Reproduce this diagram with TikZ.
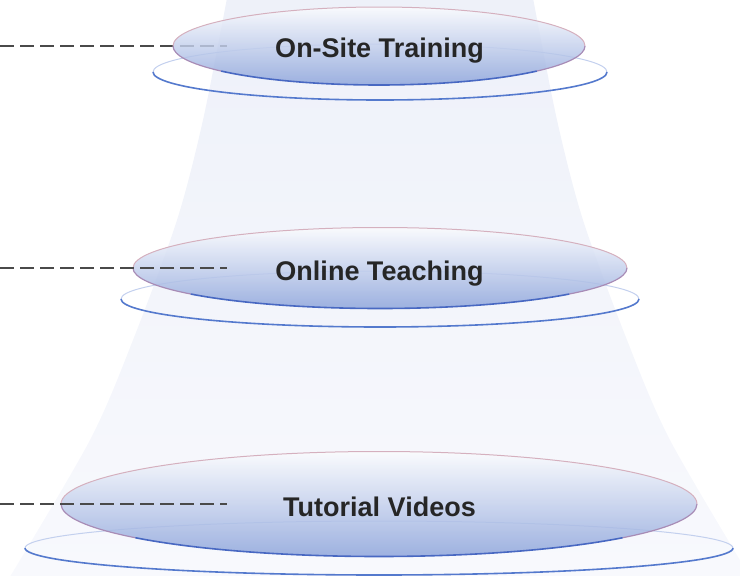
\documentclass[tikz,border=0pt]{standalone}
\usepackage{fontspec}
\setmainfont{Liberation Sans}
\usetikzlibrary{shapes.geometric}
\definecolor{conetop}{HTML}{EEF1F9}
\definecolor{conebot}{HTML}{F8F9FD}
\definecolor{elltop}{HTML}{FBFCFE}
\definecolor{ellbot}{HTML}{8AA2DA}
\definecolor{pinkline}{HTML}{D5B0BE}
\definecolor{mauveline}{HTML}{A88CB6}
\definecolor{blueline}{HTML}{4868C2}
\definecolor{ringblue}{HTML}{5479CD}
\definecolor{ringlight}{HTML}{C3D0EE}
\definecolor{dashc}{HTML}{4A4A4A}
\definecolor{txtc}{HTML}{262626}
\tikzset{
  mainell/.style={ellipse, inner sep=0pt, top color=elltop, bottom color=ellbot, fill opacity=0.82, draw=none},
  upline/.style={draw=pinkline, line width=1pt},
  midline/.style={draw=mauveline, line width=1.2pt},
  lowline/.style={draw=blueline, line width=1.6pt},
  ringlow/.style={draw=ringblue, line width=1.6pt},
  ringup/.style={draw=ringlight, line width=1pt},
  dashline/.style={draw=dashc, line width=1.2pt, dash pattern=on 14pt off 6pt},
  lbl/.style={text=txtc, font=\bfseries\fontsize{27}{32}\selectfont, inner sep=0pt, anchor=base}
}
\begin{document}
\begin{tikzpicture}[x=1pt,y=-1pt]
\useasboundingbox (0,0) rectangle (740,576);
% cone
\shade[top color=conetop, bottom color=conebot]
  plot[smooth] coordinates {(227,-2) (203,120) (177,220) (133,340) (90,440) (8,580)}
  -- plot[smooth] coordinates {(752,580) (670,440) (627,340) (583,220) (557,120) (533,-2)} -- cycle;

% connector end points
\coordinate (s1) at (0,46);   \coordinate (t1) at (227,46);
\coordinate (s2) at (0,268);  \coordinate (t2) at (227,268);
\coordinate (s3) at (0,504);  \coordinate (t3) at (227,504);
% top dashed connector (behind its ellipse)
\draw[dashline] (s1) -- (t1);

% rings
\foreach \cx/\cy/\rx/\ry in {380/72/227/28, 380/299/259/28, 379/548/354/27}{
  \draw[ringup] ({\cx-\rx},\cy) arc[start angle=180, end angle=360, x radius=\rx, y radius=\ry];
  \draw[ringlow] ({\cx+\rx},\cy) arc[start angle=0, end angle=180, x radius=\rx, y radius=\ry];
}

% main ellipses
\node[mainell, minimum width=412pt, minimum height=78pt] (e1) at (379,46) {};
\node[mainell, minimum width=494pt, minimum height=81pt] (e2) at (380,268) {};
\node[mainell, minimum width=636pt, minimum height=105pt] (e3) at (379,504) {};

% outlines
\foreach \cx/\cy/\rx/\ry in {379/46/206/39, 380/268/247/40.5, 379/504/318/52.5}{
  \draw[upline] ({\cx-\rx},\cy) arc[start angle=180, end angle=360, x radius=\rx, y radius=\ry];
  \draw[midline] ({\cx-\rx},\cy) arc[start angle=180, end angle=140, x radius=\rx, y radius=\ry];
  \draw[midline] ({\cx+\rx},\cy) arc[start angle=0, end angle=40, x radius=\rx, y radius=\ry];
  \draw[lowline] ({\cx+\rx*cos(140)},{\cy+\ry*sin(140)}) arc[start angle=140, end angle=40, x radius=\rx, y radius=\ry];
}

% lower dashed connectors (over their ellipses)
\draw[dashline] (s2) -- (t2);
\draw[dashline] (s3) -- (t3);

% labels
\node[lbl] (l1) at (379.5,57) {On-Site Training};
\node[lbl] (l2) at (379.5,280) {Online Teaching};
\node[lbl] (l3) at (379.5,516) {Tutorial Videos};
\end{tikzpicture}
\end{document}
